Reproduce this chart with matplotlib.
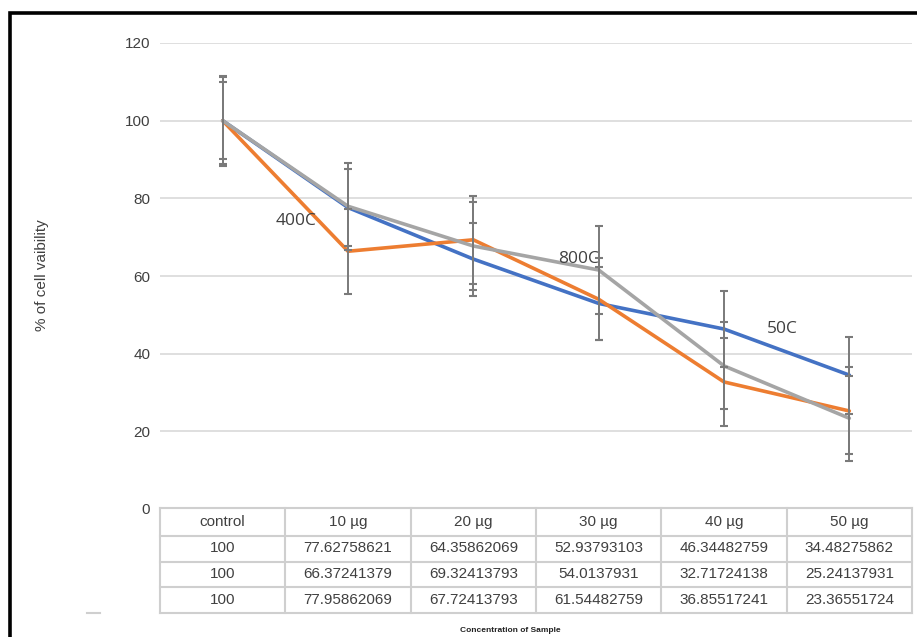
import matplotlib
matplotlib.use("Agg")
import matplotlib.pyplot as plt
from matplotlib.patches import Rectangle
from matplotlib.lines import Line2D

# Concentrations tested
categories = ["control", "10 µg", "20 µg", "30 µg", "40 µg", "50 µg"]

# Mean % cell viability per annealing temperature
viab_50c = [100, 77.62758621, 64.35862069, 52.93793103, 46.34482759, 34.48275862]
viab_400c = [100, 66.37241379, 69.32413793, 54.0137931, 32.71724138, 25.24137931]
viab_800c = [100, 77.95862069, 67.72413793, 61.54482759, 36.85517241, 23.36551724]

# Standard deviations (error bars)
err_50c = [9.9, 10.0, 9.4, 9.4, 9.8, 9.9]
err_400c = [11.6, 11.0, 11.4, 10.5, 11.3, 11.2]
err_800c = [11.2, 11.2, 11.4, 11.4, 11.2, 11.0]

series_names = ["50C", "400C", "800C"]
yticks = [0, 20, 40, 60, 80, 100, 120]

plt.rcParams["font.family"] = ["Liberation Sans", "DejaVu Sans"]

W, H = 917, 637
fig = plt.figure(figsize=(W / 100, H / 100), dpi=100)


def fx(px):
    return px / W


def fy(py):
    return 1 - py / H


# Outer frame
fig.patches.append(Rectangle((fx(10), -0.02), 1.05, fy(13) + 0.02, transform=fig.transFigure,
                             fill=False, edgecolor="black", linewidth=2.6, zorder=10))

ax = fig.add_axes([fx(160), fy(509), fx(912) - fx(160), fy(43) - fy(509)])
x = list(range(len(categories)))

colors = {"50C": "#4472C4", "400C": "#ED7D31", "800C": "#A5A5A5"}
data = {"50C": (viab_50c, err_50c), "400C": (viab_400c, err_400c), "800C": (viab_800c, err_800c)}

for i, name in enumerate(series_names):
    vals, errs = data[name]
    ax.plot(x, vals, color=colors[name], linewidth=2.6, solid_capstyle="round", zorder=3 + i)
for name in series_names:
    vals, errs = data[name]
    ax.errorbar(x, vals, yerr=errs, fmt="none", ecolor="#7a7a7a", elinewidth=1.4,
                capsize=3, capthick=1.5, zorder=7)

# Series labels placed next to a point of each line
lab_kw = dict(fontsize=12.5, color="#404040", family=["Open Sans", "DejaVu Sans"], zorder=8)
ax.annotate("400C", (1, viab_400c[1]), xytext=(-23, 22), textcoords="offset points",
            ha="right", va="center", **lab_kw)
ax.annotate("800C", (3, viab_800c[3]), xytext=(0, 2), textcoords="offset points",
            ha="right", va="bottom", **lab_kw)
ax.annotate("50C", (4, viab_50c[4]), xytext=(42, 0), textcoords="offset points",
            ha="center", va="center", **lab_kw)

ax.set_xlim(-0.5, len(categories) - 0.5)
ax.set_ylim(0, 120)
ax.set_yticks(yticks)
ax.set_yticklabels([str(t) for t in yticks], fontsize=11, color="#404040")
ax.tick_params(axis="y", length=0, pad=7)
ax.set_xticks([])
ax.grid(axis="y", color="#d9d9d9", linewidth=1.2)
ax.set_axisbelow(True)
for s in ax.spines.values():
    s.set_visible(False)

fig.text(fx(42), fy(275), "% of cell vaibility", rotation=90, ha="center", va="center",
         fontsize=11, color="#404040")

# Data table under the plot, columns aligned with the categories
tab = fig.add_axes([fx(160), fy(613), fx(912) - fx(160), fy(508) - fy(613)])
tab.set_xlim(-0.5, len(categories) - 0.5)
row_edges = [0, 26, 51.5, 77, 105]  # pixel rows from the bottom of the table
tab.set_ylim(0, 105)
tab.axis("off")
grid_c = "#cfcfcf"
for y in row_edges:
    tab.add_line(Line2D([-0.5, len(categories) - 0.5], [y, y], color=grid_c, linewidth=1.5,
                        clip_on=False))
for xe in range(len(categories) + 1):
    tab.add_line(Line2D([xe - 0.5, xe - 0.5], [0, 105], color=grid_c, linewidth=1.5, clip_on=False))

rows = [categories] + [[f"{v:.10g}" for v in vals] for vals in (viab_50c, viab_400c, viab_800c)]
centers = [91, 64.5, 39, 13]
for r, row in enumerate(rows):
    for c, txt in enumerate(row):
        tab.text(c, centers[r], txt, ha="center", va="center", fontsize=11, color="#404040")

fig.add_artist(Line2D([fx(87), fx(100)], [fy(613), fy(613)], color=grid_c, linewidth=1.5))

fig.text(fx(510), fy(631), "Concentration of Sample", ha="center", va="center",
         fontsize=6, fontweight="bold", color="#222222")

fig.savefig("out.png", dpi=100)
